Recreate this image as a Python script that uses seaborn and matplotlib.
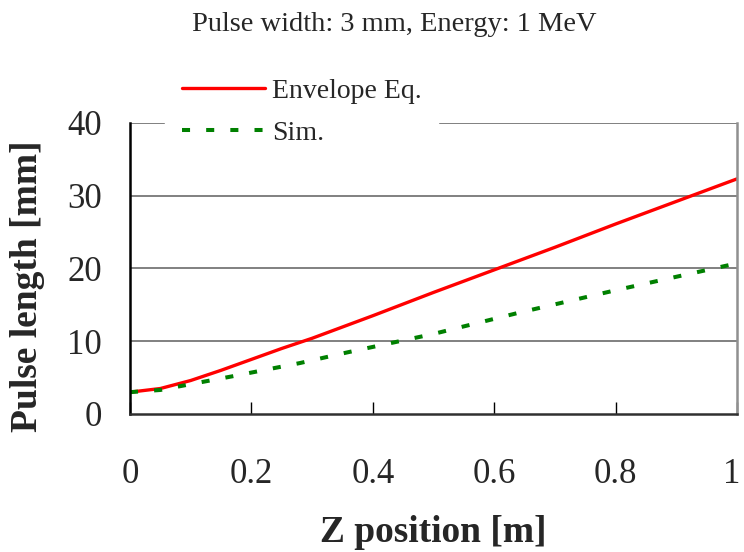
import matplotlib
matplotlib.use("Agg")
import matplotlib.pyplot as plt
from matplotlib.transforms import ScaledTranslation
import seaborn as sns
import pandas as pd

# values
z_env = [0.0, 0.05, 0.1, 0.15, 0.2, 0.25, 0.3, 0.4, 0.5, 0.6, 0.7, 0.8, 0.9, 1.0]
len_env = [3.0, 3.5, 4.6, 6.0, 7.5, 9.0, 10.4, 13.5, 16.7, 19.8, 22.9, 26.1, 29.2, 32.3]

z_sim = [0.0, 0.05, 0.1, 0.17, 0.28, 0.36, 0.5, 0.64, 0.8, 1.0]
len_sim = [3.0, 3.3, 4.1, 5.2, 7.0, 8.5, 11.0, 13.9, 17.0, 20.7]

x_ticks = [0, 0.2, 0.4, 0.6, 0.8, 1]
x_labels = ["0", "0.2", "0.4", "0.6", "0.8", "1"]
y_ticks = [0, 10, 20, 30, 40]

sns.set_theme(style="white")
plt.rcParams["font.family"] = ["Liberation Serif", "DejaVu Serif"]

df_env = pd.DataFrame({"z": z_env, "len": len_env})
df_sim = pd.DataFrame({"z": z_sim, "len": len_sim})

fig = plt.figure(figsize=(7.44, 5.52), dpi=100)
ax = fig.add_axes([0.1747, 0.25, 0.8159, 0.5275])

sns.lineplot(data=df_env, x="z", y="len", ax=ax, color="#ff0000", lw=2.4,
             label="Envelope Eq.")
sns.lineplot(data=df_sim, x="z", y="len", ax=ax, color="#008000", lw=2.9,
             linestyle=(0, (2.0, 4.0)), label="Sim.")

ax.set_xlim(0, 1)
ax.set_ylim(0, 40)
ax.set_xticks(x_ticks)
ax.set_xticklabels(x_labels)
ax.set_yticks(y_ticks)
for y in y_ticks[1:]:
    ax.axhline(y, color="#808080", lw=1.4, zorder=0)

ax.tick_params(axis="x", direction="in", length=9, width=1, color="black",
               labelsize=25, pad=32, bottom=True)
ax.tick_params(axis="y", left=False, labelsize=25, pad=14)

# keep the "1" at the right edge inside the picture
last = ax.get_xticklabels()[-1]
last.set_transform(last.get_transform() + ScaledTranslation(-4 / 72, 0, fig.dpi_scale_trans))

ax.spines["top"].set_visible(False)
ax.spines["left"].set_color("black")
ax.spines["left"].set_linewidth(1.8)
ax.spines["bottom"].set_color("#303030")
ax.spines["bottom"].set_linewidth(1.8)
ax.spines["right"].set_color("#909090")
ax.spines["right"].set_linewidth(1.8)

ax.set_xlabel("Z position [m]", fontsize=27, fontweight="bold", labelpad=17)
ax.set_ylabel("Pulse length [mm]", fontsize=27, fontweight="bold")
ax.yaxis.set_label_coords(-0.14, 0.438)

fig.text(0.53, 0.955, "Pulse width: 3 mm, Energy: 1 MeV", ha="center", va="center",
         fontsize=20.5)

leg = ax.legend(loc="upper left", bbox_to_anchor=(165 / 744, 0.888),
                bbox_transform=fig.transFigure, frameon=True,
                fontsize=20, handlelength=3.0, handletextpad=0.25,
                labelspacing=0.6, borderpad=0.6, borderaxespad=0,
                fancybox=False)
leg.get_frame().set_edgecolor("white")
leg.get_frame().set_facecolor("white")
leg.get_frame().set_alpha(1)
leg.set_zorder(5)

fig.savefig("out.png", dpi=100)
plt.close(fig)
